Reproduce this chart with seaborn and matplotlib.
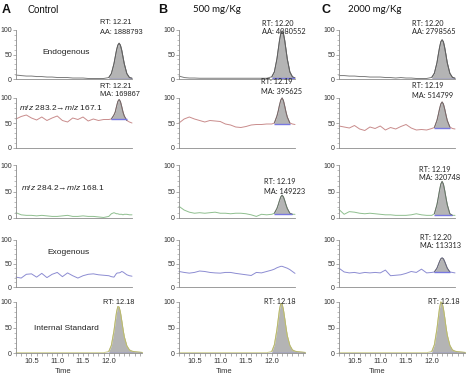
import matplotlib
matplotlib.use("Agg")
import matplotlib.pyplot as plt
import pandas as pd
import seaborn as sns
from matplotlib.ticker import MultipleLocator, FormatStrFormatter

sns.set_style("ticks")
plt.rcParams["font.family"] = ["Liberation Sans", "DejaVu Sans"]
plt.rcParams["mathtext.fontset"] = "custom"
plt.rcParams["mathtext.it"] = "Liberation Sans:italic"
plt.rcParams["mathtext.rm"] = "Liberation Sans"

# ---------------- data ----------------
TIME = [10.2, 10.3, 10.4, 10.5, 10.6, 10.7, 10.8, 10.9, 11.0, 11.1, 11.2, 11.3,
        11.4, 11.5, 11.6, 11.7, 11.8, 11.9, 12.0, 12.05, 12.1, 12.125, 12.15,
        12.175, 12.2, 12.225, 12.25, 12.275, 12.3, 12.35, 12.4, 12.45]
TIME_IS = TIME + [12.5, 12.55, 12.6, 12.65]

GROUPS = ["Control", "500 mg/Kg", "2000 mg/Kg"]
LETTERS = ["A", "B", "C"]
ROW_LABELS = ["Endogenous", "$m/z$ 283.2\u2192$m/z$ 167.1",
              "$m/z$ 284.2\u2192$m/z$ 168.1", "Exogenous", "Internal Standard"]

# Column A (Control)
A_ENDO = [8, 7, 6, 6, 5, 5, 4, 4, 3, 3, 3, 2, 2, 2, 1, 1, 1, 1,
          3, 11, 31, 45, 59, 69, 73, 69, 59, 45, 31, 11, 3, 1.5]
A_MZ283 = [58, 63, 66, 60, 56, 62, 55, 60, 64, 55, 52, 60, 57, 62, 54, 58, 55, 57,
           57, 58, 66, 72, 83, 93, 97, 93, 83, 72, 64, 55, 52, 50]
A_MZ284 = [10, 6, 5, 5, 4, 5, 4, 3, 3, 4, 5, 3, 3, 4, 3, 3, 2, 1,
           3, 8, 10, 9, 8, 8, 7, 7, 7, 6, 7, 7, 6, 6]
A_EXO = [21, 19, 27, 28, 21, 29, 20, 27, 31, 22, 30, 24, 19, 24, 27, 28, 26, 25,
         24, 22, 21, 25, 29, 30, 30, 31, 33, 32, 30, 26, 24, 23]
A_IS = [0.5] * 18 + [3, 15, 43, 62, 80, 91, 90, 80, 64, 47, 32, 14, 6, 3.5,
                     2.5, 2, 1.5, 1]

# Column B (500 mg/Kg)
B_ENDO = [6, 3, 2, 2, 1.5, 1.5, 1.5, 1.5, 1.5, 1.5, 1.5, 1.5, 1.5, 1.5, 1.5, 1.5, 1.5, 1.5,
          4.5, 14.5, 41, 60, 79, 93, 98, 93, 79, 60, 41, 14.5, 4.5, 2]
B_MZ283 = [50, 58, 62, 58, 55, 52, 55, 54, 53, 48, 46, 42, 41, 43, 46, 47, 47, 48,
           48, 50, 64, 74, 86, 96, 100, 95, 84, 72, 62, 50, 48, 47]
B_MZ284 = [22, 15, 11, 9, 10, 9, 10, 11, 9, 9, 8, 9, 9, 8, 6, 3, 7, 6,
           7, 9, 18, 25, 33, 40, 43, 40, 33, 25, 18, 9, 7, 7]
B_EXO = [33, 31, 29.5, 31, 34, 33, 31, 30, 29.5, 31, 31, 29, 27.5, 26, 24.5, 31, 30, 33,
         36, 38, 41, 42, 43, 44, 44, 43, 42, 41, 40, 37, 33, 29]
B_IS = [0.5] * 18 + [3, 16, 46, 66, 86, 97, 96, 85, 68, 50, 34, 15, 6, 3.5,
                     2.5, 2, 1.5, 1]

# Column C (2000 mg/Kg)
C_ENDO = [7, 7, 6, 6, 5, 5, 4, 4, 4, 3, 3, 2, 3, 2, 2, 1, 1, 1,
          3.4, 11.7, 33, 49, 64, 76, 80, 76, 64, 49, 33, 11.7, 3.4, 1.5]
C_MZ283 = [44, 42, 40, 45, 38, 35, 42, 39, 44, 36, 41, 38, 43, 47, 40, 36, 37, 36,
           39, 41, 55, 66, 78, 88, 92, 88, 78, 66, 55, 42, 39, 38]
C_MZ284 = [16, 7, 12, 11, 9, 8, 9, 8, 7, 6, 6, 5, 5, 5, 6, 8, 6, 5,
           5, 8, 25, 38, 52, 64, 69, 64, 52, 38, 25, 8, 5, 5]
C_EXO = [40, 32, 30, 31, 29, 31, 30, 31, 30, 36, 24, 25, 26, 29, 33, 31, 38, 30,
         31, 32, 40, 47, 54, 60, 62, 60, 54, 47, 40, 32, 31, 30]
C_IS = [0.5] * 18 + [3, 16, 47, 68, 88, 100, 98, 87, 70, 51, 35, 15, 6, 3.5,
                     2.5, 2, 1.5, 1]

TRACES = [[A_ENDO, A_MZ283, A_MZ284, A_EXO, A_IS],
          [B_ENDO, B_MZ283, B_MZ284, B_EXO, B_IS],
          [C_ENDO, C_MZ283, C_MZ284, C_EXO, C_IS]]

# integrated peak windows: (start, end, baseline)
PEAK_A = [(12.0, 12.45, 1), (12.05, 12.35, 57), None, None, (11.95, 12.65, 0.5)]
PEAK_B = [(12.0, 12.45, 1.5), (12.05, 12.35, 48), (12.05, 12.4, 7), None, (11.95, 12.65, 0.5)]
PEAK_C = [(12.0, 12.45, 1), (12.05, 12.35, 39), (12.05, 12.4, 5), (12.05, 12.35, 31), (11.95, 12.65, 0.5)]
PEAKS = [PEAK_A, PEAK_B, PEAK_C]

RT_A = ["12.21", "12.21", None, None, "12.18"]
RT_B = ["12.20", "12.19", "12.19", None, "12.18"]
RT_C = ["12.20", "12.19", "12.19", "12.20", "12.18"]
AREA_A = ["AA: 1888793", "MA: 169867", None, None, None]
AREA_B = ["AA: 4080552", "MA: 395625", "MA: 149223", None, None]
AREA_C = ["AA: 2798565", "MA: 514799", "MA: 320748", "MA: 113313", None]
RTS = [RT_A, RT_B, RT_C]
AREAS = [AREA_A, AREA_B, AREA_C]

# ---------------- style / layout ----------------
LINE_COLORS = ["#7d7d7d", "#c98c8c", "#8fbf8f", "#8c8cd2", "#cdcd8c"]
OUTLINES = ["#5e5e5e", "#6a6a6a", "#6a6a6a", "#6a6a6a", "#b8b870"]
FILL = "#b4b4b4"
BLUE = "#7878e0"
SPINE = "#8c8c8c"

W, H = 470, 376
ROWS_PX = [(30, 79), (98, 148), (165, 218), (240, 287), (302, 353)]
COLS_PX = [(16, 116), (179, 116), (339, 116)]
XMAX_TOP, XMAX_BOT = 12.45, 12.65
XMIN = 10.2

fig = plt.figure(figsize=(W / 100, H / 100), dpi=100)
fig.patch.set_facecolor("white")


def fx(px):
    return px / W


def fy(py):
    return 1 - py / H


# annotation positions (left x, y of first line) per column/row
ANN_POS = [
    [(100, 23), (100, 86), None, None, (103, 302)],
    [(262, 23), (261, 82), (264, 182), None, (264, 302)],
    [(412, 23), (412, 86), (419, 169), (420, 237), (428, 302)],
]
LABEL_POS = [(66, 53), (61, 108), (63, 188), (68, 252), (66, 328)]
TIME_LABEL_X = [0.37, 0.36, 0.30]

for c in range(3):
    left, width = COLS_PX[c]
    for r in range(5):
        top, bot = ROWS_PX[r]
        bottom_row = (r == 4)
        xmax = XMAX_BOT if bottom_row else XMAX_TOP
        wpx = width * (xmax - XMIN) / (XMAX_TOP - XMIN)
        ax = fig.add_axes([fx(left), fy(bot), fx(wpx), (bot - top) / H])
        ax.set_facecolor("none")
        t = TIME_IS if bottom_row else TIME
        y = TRACES[c][r]
        df = pd.DataFrame({"t": t, "y": y})
        pk = PEAKS[c][r]
        if pk is not None:
            s, e, b = pk
            m = (df["t"] >= s - 1e-9) & (df["t"] <= e + 1e-9)
            sub = df[m]
            ax.fill_between(sub["t"], b, sub["y"], color=FILL, lw=0, zorder=1)
            sns.lineplot(data=sub, x="t", y="y", ax=ax, color=OUTLINES[r],
                         lw=0.7, estimator=None, sort=False, zorder=3)
            ax.hlines(b, s, e, color=BLUE, lw=1.0, zorder=4)
        sns.lineplot(data=df, x="t", y="y", ax=ax, color=LINE_COLORS[r],
                     lw=0.7, estimator=None, sort=False, zorder=2)
        for ln in ax.lines:
            ln.set_clip_on(False)
        ax.set_xlim(XMIN, xmax)
        ax.set_ylim(0, 100)
        sns.despine(ax=ax)
        for sp in ("left", "bottom"):
            ax.spines[sp].set_color(SPINE)
            ax.spines[sp].set_linewidth(0.6)
        ax.set_yticks([0, 50, 100])
        ax.yaxis.set_minor_locator(MultipleLocator(10))
        ax.tick_params(axis="y", which="major", labelsize=5, length=2, width=0.5,
                       color=SPINE, labelcolor="#333333", pad=0.8)
        ax.tick_params(axis="y", which="minor", length=1.3, width=0.4, color=SPINE)
        ax.set_ylabel("")
        if bottom_row:
            ax.set_xticks([10.5, 11.0, 11.5, 12.0])
            ax.xaxis.set_major_formatter(FormatStrFormatter("%.1f"))
            ax.xaxis.set_minor_locator(MultipleLocator(0.1))
            ax.tick_params(axis="x", which="both", labelsize=5.5, length=2, width=0.5,
                           color=SPINE, labelcolor="#333333", pad=1.5)
            ax.set_xlabel("Time", fontsize=5.5, color="#333333", labelpad=0)
            ax.xaxis.set_label_coords(TIME_LABEL_X[c], -0.30)
        else:
            ax.set_xticks([])
            ax.set_xlabel("")
        # annotations
        pos = ANN_POS[c][r]
        fam = ["Liberation Sans", "DejaVu Sans"] if c == 0 else ["Lato", "DejaVu Sans"]
        if RTS[c][r] is not None and pos is not None:
            fig.text(fx(pos[0]), fy(pos[1]), "RT: " + RTS[c][r], fontsize=5.3,
                     family=fam, color="#222222", va="center", ha="left")
            if AREAS[c][r] is not None:
                fig.text(fx(pos[0]), fy(pos[1] + 9), AREAS[c][r], fontsize=5.3,
                         family=fam, color="#222222", va="center", ha="left")
        if c == 0:
            lx, ly = LABEL_POS[r]
            fig.text(fx(lx), fy(ly), ROW_LABELS[r], fontsize=6, color="#222222",
                     ha="center", va="center")

# headers
HEAD_X = [(2, 27), (158, 193), (322, 348)]
for c in range(3):
    lx, gx = HEAD_X[c]
    fig.text(fx(lx), fy(10), LETTERS[c], fontsize=9, fontweight="bold",
             ha="left", va="center", color="#111111")
    fam = ["Liberation Sans", "DejaVu Sans"] if c == 0 else ["Lato", "DejaVu Sans"]
    fig.text(fx(gx), fy(10), GROUPS[c], fontsize=7, family=fam,
             ha="left", va="center", color="#111111")

fig.savefig("out.png", dpi=100, facecolor="white")
